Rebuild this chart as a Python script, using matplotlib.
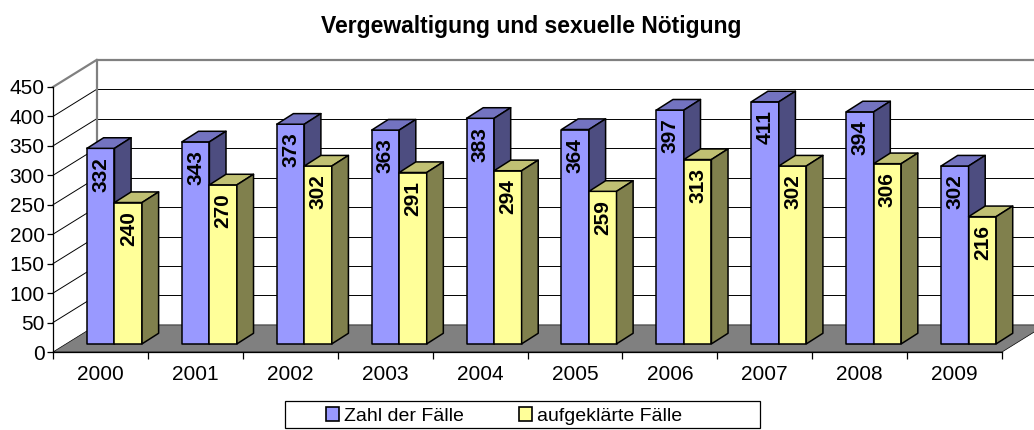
import matplotlib
matplotlib.use('Agg')
import matplotlib.pyplot as plt
from matplotlib.patches import Polygon, Rectangle, Patch

plt.rcParams['font.family'] = ['Liberation Sans', 'DejaVu Sans']

# Daten
jahre = ['2000', '2001', '2002', '2003', '2004', '2005', '2006', '2007', '2008', '2009']
zahl_faelle = [332, 343, 373, 363, 383, 364, 397, 411, 394, 302]
aufgeklaert = [240, 270, 302, 291, 294, 259, 313, 302, 306, 216]
serien = ['Zahl der Fälle', 'aufgeklärte Fälle']
titel = 'Vergewaltigung und sexuelle Nötigung'

# Farben (Vorderseite, Oberseite, Seite)
farben = [('#9999FF', '#7373C0', '#4D4D80'),
          ('#FFFF99', '#C0C073', '#80804D')]

# 3D-Geometrie (in Datenkoordinaten)
DX, DY = 0.46, 46          # Tiefe des Bodens
f0 = 0.30                  # Position der Balken in der Tiefe
bdx, bdy = 0.175, 18       # Tiefe der Balken
off = 0.22                 # Abstand vom Kategorienrand
w = 0.29                   # Balkenbreite
ymax = 450
fs = 15

fig = plt.figure(figsize=(10.34, 4.30), dpi=100)
ax = fig.add_axes([53/1034, (430-352)/430, 949/1034, 265/430])
ax.set_xlim(0, len(jahre))
ax.set_ylim(0, ymax)
ax.patch.set_visible(False)

def poly(pts, fc, ec='black', lw=1.1, z=2):
    ax.add_patch(Polygon(pts, closed=True, facecolor=fc, edgecolor=ec, lw=lw,
                         clip_on=False, joinstyle='round', zorder=z))

n = len(jahre)
grau = '#808080'

# Wände: Gitterlinien
for v in range(50, ymax, 50):
    ax.plot([0, DX], [v, v + DY], color='black', lw=0.7, clip_on=False, zorder=1)
    ax.plot([DX, n + DX], [v + DY, v + DY], color='black', lw=0.7, clip_on=False, zorder=1)
ax.plot([0, DX], [ymax, ymax + DY], color=grau, lw=1.6, clip_on=False, zorder=1)
ax.plot([DX, DX, n + DX], [DY, ymax + DY, ymax + DY], color=grau, lw=1.6, clip_on=False, zorder=1)

# Boden
poly([(0, 0), (n, 0), (n + DX, DY), (DX, DY)], grau, ec='black', lw=0.5, z=1.5)

# Balken
for i in range(n):
    for k, werte in enumerate([zahl_faelle, aufgeklaert]):
        v = werte[i]
        front, top, side = farben[k]
        x0 = i + off + k * w + f0 * DX
        y0 = f0 * DY
        poly([(x0, y0), (x0 + w, y0), (x0 + w, y0 + v), (x0, y0 + v)], front)
        poly([(x0, y0 + v), (x0 + w, y0 + v), (x0 + w + bdx, y0 + v + bdy),
              (x0 + bdx, y0 + v + bdy)], top)
        poly([(x0 + w, y0), (x0 + w + bdx, y0 + bdy), (x0 + w + bdx, y0 + v + bdy),
              (x0 + w, y0 + v)], side)
        ax.annotate(str(v), (x0 + w / 2, y0 + v), xytext=(0, -6),
                    textcoords='offset points', rotation=90, ha='center', va='top',
                    fontsize=fs, fontweight='bold', zorder=3, annotation_clip=False)

# Achsen
for s in ['top', 'right']:
    ax.spines[s].set_visible(False)
ax.spines['left'].set_linewidth(0.9)
ax.spines['bottom'].set_linewidth(0.9)
ax.spines['bottom'].set_zorder(2.5)
ax.set_yticks(range(0, ymax + 1, 50))
ax.tick_params(axis='y', direction='out', length=4, width=0.9, pad=2, labelsize=fs)
ax.set_xticks(range(n + 1))
ax.set_xticklabels([''] * (n + 1))
ax.set_xticks([i + 0.5 for i in range(n)], minor=True)
ax.set_xticklabels(jahre, minor=True)
ax.tick_params(axis='x', which='major', direction='out', length=5, width=0.9)
ax.tick_params(axis='x', which='minor', length=0, pad=9, labelsize=fs)

# Titel
fig.text(531/1034, 1 - 27/430, titel, ha='center', va='center',
         fontsize=16.5, fontweight='bold')

# Legende
fig.patches.append(Rectangle((285/1034, 2/430), 475/1034, 27/430,
                             transform=fig.transFigure, facecolor='white',
                             edgecolor='black', lw=0.9))
handles = [Patch(facecolor=farben[k][0], edgecolor='black', lw=1.2) for k in range(2)]
fig.legend(handles, serien, loc='center', bbox_to_anchor=(504/1034, 1 - 416/430),
           ncol=2, frameon=False, fontsize=14, handlelength=0.7, handleheight=0.7,
           handletextpad=0.25, columnspacing=2.8, borderpad=0)

fig.savefig('out.png', dpi=100)
